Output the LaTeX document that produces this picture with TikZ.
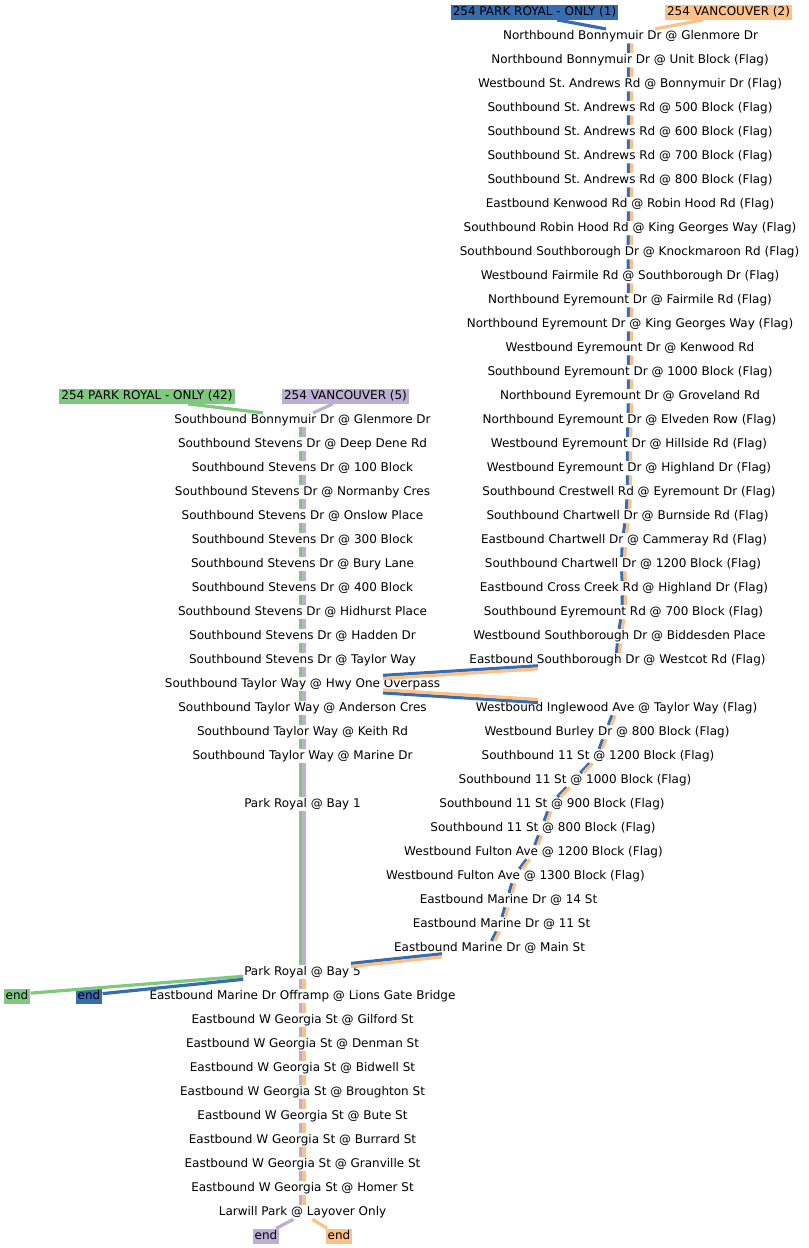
\documentclass[tikz,border=0pt]{standalone}
\usepackage{fontspec}
\setmainfont{DejaVu Sans}
\usepackage{tikz}
\usetikzlibrary{calc}

\definecolor{prgreen}{HTML}{7FC97F}
\definecolor{vanpurple}{HTML}{BEAED4}
\definecolor{vanorange}{HTML}{FDC086}
\definecolor{prblue}{HTML}{386CB0}

\frenchspacing

\begin{document}
\begin{tikzpicture}[
        x=0.75pt, y=-0.75pt,
        % Estilos das paragens e das caixas de linha
        stop/.style={anchor=base, yshift=-4pt, inner sep=0.6pt, text height=7pt, text depth=2.2pt, font=\fontsize{9}{11}\selectfont},
        routebox/.style={stop, fill=#1, inner xsep=1.5pt, inner ysep=1pt},
        leg/.style={draw=#1, line width=2.4pt}
    ]
    \useasboundingbox (0,0) rectangle (809,1248);

    % 1. Caixas de linha (inicio e fim)
    \node (lblpr1) [routebox=prblue] at (534.5,10) {254 PARK ROYAL - ONLY (1)};
    \node (lblvan2) [routebox=vanorange] at (728.5,10) {254 VANCOUVER (2)};
    \node (lblpr42) [routebox=prgreen] at (147,394) {254 PARK ROYAL - ONLY (42)};
    \node (lblvan5) [routebox=vanpurple] at (345.5,394) {254 VANCOUVER (5)};
    \node (endpr42) [routebox=prgreen] at (17,994) {end};
    \node (endpr1) [routebox=prblue] at (89,994) {end};
    \node (endvan5) [routebox=vanpurple] at (266,1234) {end};
    \node (endvan2) [routebox=vanorange] at (339,1234) {end};

    % 2. Coluna da direita (Northbound Bonnymuir ... Westcot)
    \node (nbonny) [stop] at (630.5,34) {Northbound Bonnymuir Dr @ Glenmore Dr};
    \node (nunit) [stop] at (630,58) {Northbound Bonnymuir Dr @ Unit Block (Flag)};
    \node (wstandrews) [stop] at (630,82) {Westbound St. Andrews Rd @ Bonnymuir Dr (Flag)};
    \node (sfive) [stop] at (630,106) {Southbound St. Andrews Rd @ 500 Block (Flag)};
    \node (ssix) [stop] at (630,130) {Southbound St. Andrews Rd @ 600 Block (Flag)};
    \node (sseven) [stop] at (630,154) {Southbound St. Andrews Rd @ 700 Block (Flag)};
    \node (seight) [stop] at (630,178) {Southbound St. Andrews Rd @ 800 Block (Flag)};
    \node (kenwood) [stop] at (630,202) {Eastbound Kenwood Rd @ Robin Hood Rd (Flag)};
    \node (robinhood) [stop] at (630,226) {Southbound Robin Hood Rd @ King Georges Way (Flag)};
    \node (knockmaroon) [stop] at (629.5,250) {Southbound Southborough Dr @ Knockmaroon Rd (Flag)};
    \node (fairmile) [stop] at (630,274) {Westbound Fairmile Rd @ Southborough Dr (Flag)};
    \node (nfairmile) [stop] at (630,298) {Northbound Eyremount Dr @ Fairmile Rd (Flag)};
    \node (nkinggeorges) [stop] at (630,322) {Northbound Eyremount Dr @ King Georges Way (Flag)};
    \node (wkenwood) [stop] at (630,346) {Westbound Eyremount Dr @ Kenwood Rd};
    \node (sthousand) [stop] at (630,370) {Southbound Eyremount Dr @ 1000 Block (Flag)};
    \node (groveland) [stop] at (630,394) {Northbound Eyremount Dr @ Groveland Rd};
    \node (elveden) [stop] at (629.5,418) {Northbound Eyremount Dr @ Elveden Row (Flag)};
    \node (hillside) [stop] at (629,442) {Westbound Eyremount Dr @ Hillside Rd (Flag)};
    \node (highland) [stop] at (629,466) {Westbound Eyremount Dr @ Highland Dr (Flag)};
    \node (crestwell) [stop] at (629,490) {Southbound Crestwell Rd @ Eyremount Dr (Flag)};
    \node (burnside) [stop] at (627.5,514) {Southbound Chartwell Dr @ Burnside Rd (Flag)};
    \node (cammeray) [stop] at (624,538) {Eastbound Chartwell Dr @ Cammeray Rd (Flag)};
    \node (chartwell) [stop] at (623,562) {Southbound Chartwell Dr @ 1200 Block (Flag)};
    \node (crosscreek) [stop] at (624,586) {Eastbound Cross Creek Rd @ Highland Dr (Flag)};
    \node (eyreseven) [stop] at (623.5,610) {Southbound Eyremount Rd @ 700 Block (Flag)};
    \node (biddesden) [stop] at (619.5,634) {Westbound Southborough Dr @ Biddesden Place};
    \node (westcot) [stop] at (617.5,658) {Eastbound Southborough Dr @ Westcot Rd (Flag)};

    % 3. Coluna da esquerda (Southbound Bonnymuir ... Larwill Park)
    \node (sbonny) [stop] at (302.5,418) {Southbound Bonnymuir Dr @ Glenmore Dr};
    \node (deepdene) [stop] at (302.5,442) {Southbound Stevens Dr @ Deep Dene Rd};
    \node (stevhundred) [stop] at (302.5,466) {Southbound Stevens Dr @ 100 Block};
    \node (normanby) [stop] at (302.5,490) {Southbound Stevens Dr @ Normanby Cres};
    \node (onslow) [stop] at (302.5,514) {Southbound Stevens Dr @ Onslow Place};
    \node (stevthree) [stop] at (302.5,538) {Southbound Stevens Dr @ 300 Block};
    \node (bury) [stop] at (302.5,562) {Southbound Stevens Dr @ Bury Lane};
    \node (stevfour) [stop] at (302.5,586) {Southbound Stevens Dr @ 400 Block};
    \node (hidhurst) [stop] at (302.5,610) {Southbound Stevens Dr @ Hidhurst Place};
    \node (hadden) [stop] at (302.5,634) {Southbound Stevens Dr @ Hadden Dr};
    \node (stevtaylor) [stop] at (302.5,658) {Southbound Stevens Dr @ Taylor Way};
    \node (overpass) [stop] at (302.5,682) {Southbound Taylor Way @ Hwy One Overpass};
    \node (anderson) [stop] at (302.5,706) {Southbound Taylor Way @ Anderson Cres};
    \node (keith) [stop] at (302.5,730) {Southbound Taylor Way @ Keith Rd};
    \node (taymarine) [stop] at (302.5,754) {Southbound Taylor Way @ Marine Dr};
    \node (bayone) [stop] at (302.5,802) {Park Royal @ Bay 1};
    \node (bayfive) [stop] at (302.5,970) {Park Royal @ Bay 5};
    \node (offramp) [stop] at (302.5,994) {Eastbound Marine Dr Offramp @ Lions Gate Bridge};
    \node (gilford) [stop] at (302.5,1018) {Eastbound W Georgia St @ Gilford St};
    \node (denman) [stop] at (302.5,1042) {Eastbound W Georgia St @ Denman St};
    \node (bidwell) [stop] at (302.5,1066) {Eastbound W Georgia St @ Bidwell St};
    \node (broughton) [stop] at (302.5,1090) {Eastbound W Georgia St @ Broughton St};
    \node (bute) [stop] at (302.5,1114) {Eastbound W Georgia St @ Bute St};
    \node (burrard) [stop] at (302.5,1138) {Eastbound W Georgia St @ Burrard St};
    \node (granville) [stop] at (302.5,1162) {Eastbound W Georgia St @ Granville St};
    \node (homer) [stop] at (302.5,1186) {Eastbound W Georgia St @ Homer St};
    \node (larwill) [stop] at (302.5,1210) {Larwill Park @ Layover Only};

    % 4. Descida pela 11 St ate Marine Dr
    \node (inglewood) [stop] at (616.5,706) {Westbound Inglewood Ave @ Taylor Way (Flag)};
    \node (burley) [stop] at (607,730) {Westbound Burley Dr @ 800 Block (Flag)};
    \node (elevtwelve) [stop] at (598,754) {Southbound 11 St @ 1200 Block (Flag)};
    \node (elevthousand) [stop] at (575,778) {Southbound 11 St @ 1000 Block (Flag)};
    \node (elevnine) [stop] at (552,802) {Southbound 11 St @ 900 Block (Flag)};
    \node (eleveight) [stop] at (543,826) {Southbound 11 St @ 800 Block (Flag)};
    \node (fultontwelve) [stop] at (533.5,850) {Westbound Fulton Ave @ 1200 Block (Flag)};
    \node (fultonthirteen) [stop] at (515.5,874) {Westbound Fulton Ave @ 1300 Block (Flag)};
    \node (marinefourteen) [stop] at (508.5,898) {Eastbound Marine Dr @ 14 St};
    \node (marineeleven) [stop] at (501.5,922) {Eastbound Marine Dr @ 11 St};
    \node (mainst) [stop] at (489.5,946) {Eastbound Marine Dr @ Main St};

    % Ligacoes simples (caixas -> paragens)
    \draw [leg=prblue] ($(lblpr1.south)+(22.5,0)$) -- ($(nbonny.north)+(-24.5,0)$);
    \draw [leg=vanorange] ($(lblvan2.south)+(-25.5,0)$) -- ($(nbonny.north)+(24.5,0)$);
    \draw [leg=prgreen] ($(lblpr42.south)+(41,0)$) -- ($(sbonny.north)+(-39.5,0)$);
    \draw [leg=vanpurple] ($(lblvan5.south)+(-12.5,0)$) -- ($(sbonny.north)+(10.5,0)$);
    \draw [leg=prgreen] ($(bayfive.south west)+(0,-3)$) -- ($(endpr42.east)+(0,-3)$);
    \draw [leg=prblue] (bayfive.south west) -- ($(endpr1.east)+(0,-2.5)$);
    \draw [leg=vanpurple] ($(larwill.south)+(-9,0)$) -- ($(endvan5.north)+(10,0)$);
    \draw [leg=vanorange] ($(larwill.south)+(10,0)$) -- ($(endvan2.north)+(-12,0)$);

    % Ligacoes duplas (duas linhas lado a lado)
    \foreach \c/\s in {prblue/-1.15pt, vanorange/1.15pt} {
        \draw [leg=\c, transform canvas={xshift=\s}] (nbonny) -- (nunit) -- (wstandrews) -- (sfive) -- (ssix) -- (sseven) -- (seight) -- (kenwood) -- (robinhood) -- (knockmaroon) -- (fairmile) -- (nfairmile) -- (nkinggeorges) -- (wkenwood) -- (sthousand) -- (groveland) -- (elveden) -- (hillside) -- (highland) -- (crestwell) -- (burnside) -- (cammeray) -- (chartwell) -- (crosscreek) -- (eyreseven) -- (biddesden) -- (westcot);
        \draw [leg=\c, transform canvas={xshift=\s}] (inglewood) -- (burley) -- (elevtwelve) -- (elevthousand) -- (elevnine) -- (eleveight) -- (fultontwelve) -- (fultonthirteen) -- (marinefourteen) -- (marineeleven) -- (mainst);
        \draw [leg=\c, transform canvas={yshift=\s}] ($(overpass.south)+(80.5,0)$) -- ($(inglewood.north)+(-78.5,0)$);
    }
    \foreach \c/\s in {prblue/1.15pt, vanorange/-1.15pt} {
        \draw [leg=\c, transform canvas={yshift=\s}] ($(westcot.south)+(-79.5,0)$) -- ($(overpass.north)+(80.5,0)$);
        \draw [leg=\c, transform canvas={yshift=\s}] ($(mainst.south)+(-47.5,0)$) -- ($(bayfive.north)+(48.5,0)$);
    }
    \foreach \c/\s in {prgreen/-1.15pt, vanpurple/1.15pt} {
        \draw [leg=\c, transform canvas={xshift=\s}] (sbonny) -- (deepdene) -- (stevhundred) -- (normanby) -- (onslow) -- (stevthree) -- (bury) -- (stevfour) -- (hidhurst) -- (hadden) -- (stevtaylor) -- (overpass) -- (anderson) -- (keith) -- (taymarine) -- (bayone) -- (bayfive);
    }
    \foreach \c/\s in {vanpurple/-1.15pt, vanorange/1.15pt} {
        \draw [leg=\c, transform canvas={xshift=\s}] (bayfive) -- (offramp) -- (gilford) -- (denman) -- (bidwell) -- (broughton) -- (bute) -- (burrard) -- (granville) -- (homer) -- (larwill);
    }

\end{tikzpicture}
\end{document}
